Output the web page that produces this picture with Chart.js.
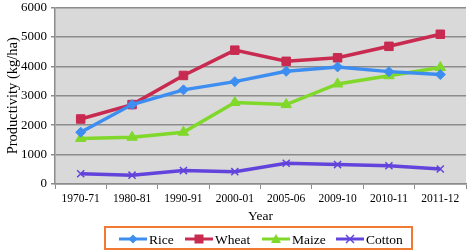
<!DOCTYPE html>
<html><head><meta charset="utf-8">
<script src="https://cdn.jsdelivr.net/npm/chart.js@4"></script>
<style>html,body{margin:0;padding:0;background:#fff}#wrap{width:473px;height:251px}</style>
</head><body><div id="wrap"><canvas id="c" width="473" height="251"></canvas></div>
<script>
const categories = ["1970-71","1980-81","1990-91","2000-01","2005-06","2009-10","2010-11","2011-12"];
const rice   = [1760, 2700, 3200, 3480, 3830, 3980, 3820, 3720];
const wheat  = [2210, 2700, 3690, 4550, 4170, 4290, 4680, 5090];
const maize  = [1550, 1590, 1760, 2770, 2700, 3400, 3680, 3960];
const cotton = [350, 300, 455, 420, 705, 660, 620, 510];
const seriesNames = ["Rice","Wheat","Maize","Cotton"];
const colors = ["#3d8ef0","#c82a50","#80d82a","#6244dc"];
const styles = ["rectRot","rect","triangle","crossRot"];
const radii = [5,6,6,5];
const FONT = "'Liberation Serif', 'Times New Roman', serif";

function drawMarker(g,s,cx,cy,col){
  g.save(); g.fillStyle=col; g.strokeStyle=col; g.beginPath();
  if(s==='rectRot'){g.moveTo(cx,cy-4.5);g.lineTo(cx+4.5,cy);g.lineTo(cx,cy+4.5);g.lineTo(cx-4.5,cy);g.closePath();g.fill();}
  else if(s==='rect'){g.fillRect(cx-4.5,cy-4.5,9,9);}
  else if(s==='triangle'){g.moveTo(cx,cy-5);g.lineTo(cx+5,cy+4);g.lineTo(cx-5,cy+4);g.closePath();g.fill();}
  else {g.lineWidth=1.5;g.moveTo(cx-4,cy-4);g.lineTo(cx+4,cy+4);g.moveTo(cx+4,cy-4);g.lineTo(cx-4,cy+4);g.stroke();}
  g.restore();
}

const datasets=[rice,wheat,maize,cotton].map((d,i)=>({
  label: seriesNames[i], data: d, borderColor: colors[i], backgroundColor: colors[i],
  borderWidth: 3.5, pointStyle: styles[i], pointRadius: radii[i], pointHoverRadius: radii[i],
  pointBorderWidth: i===3?1.5:1, pointBorderColor: colors[i], tension: 0
}));

const legendItems=[{lx:119,tx:149},{lx:185,tx:215},{lx:262,tx:292},{lx:336,tx:366}];
const bgPlugin={id:'bg',
  beforeDraw(ch){const a=ch.chartArea,x=ch.ctx;x.save();x.fillStyle='#d9d9d9';x.fillRect(a.left,a.top,a.right-a.left,a.bottom-a.top);x.restore();},
  afterDraw(ch){const g=ch.ctx;g.save();g.strokeStyle='#f07a32';g.lineWidth=2;g.strokeRect(105,227,307,22);
    const cy=239;
    legendItems.forEach((it,i)=>{
      g.strokeStyle=colors[i];g.lineWidth=3;g.beginPath();g.moveTo(it.lx,cy);g.lineTo(it.lx+28,cy);g.stroke();
      drawMarker(g,styles[i],it.lx+14,cy,colors[i]);
      g.fillStyle='#000';g.font="13.5px "+FONT;g.textBaseline='middle';g.textAlign='left';g.fillText(seriesNames[i],it.tx,cy+1);
    });
    g.restore();}};

new Chart(document.getElementById('c'),{
  type:'line',
  data:{labels:categories,datasets},
  plugins:[bgPlugin],
  options:{
    responsive:false, animation:false, devicePixelRatio:1,
    layout:{padding:{top:7.5,right:2.5,left:4,bottom:26}},
    plugins:{tooltip:{enabled:false},legend:{display:false}},
    scales:{
      x:{offset:true,grid:{offset:true,drawOnChartArea:false,color:'#8c8c8c',tickLength:5,lineWidth:1},
         border:{color:'#8c8c8c',width:1.5},
         afterFit(s){s.height=41;s.paddingRight=0;s.paddingLeft=0;},
         ticks:{font:{family:FONT,size:11.5},color:'#000',maxRotation:0,autoSkip:false,padding:3},
         title:{display:true,text:'Year',font:{family:FONT,size:13.5},color:'#000',padding:{top:4,bottom:0}}},
      y:{min:0,max:6000,
         grid:{color:'#8c8c8c',lineWidth:1.5,tickLength:4},
         border:{color:'#8c8c8c',width:1.5},
         afterFit(s){s.width=51;s.paddingTop=0;s.paddingBottom=0;},
         ticks:{stepSize:1000,font:{family:FONT,size:13},color:'#000',padding:4,callback:v=>String(v)},
         title:{display:true,text:'Productivity (kg/ha)',font:{family:FONT,size:14.5},color:'#000',padding:{top:0,bottom:2}}}
    }
  }
});
</script></body></html>
